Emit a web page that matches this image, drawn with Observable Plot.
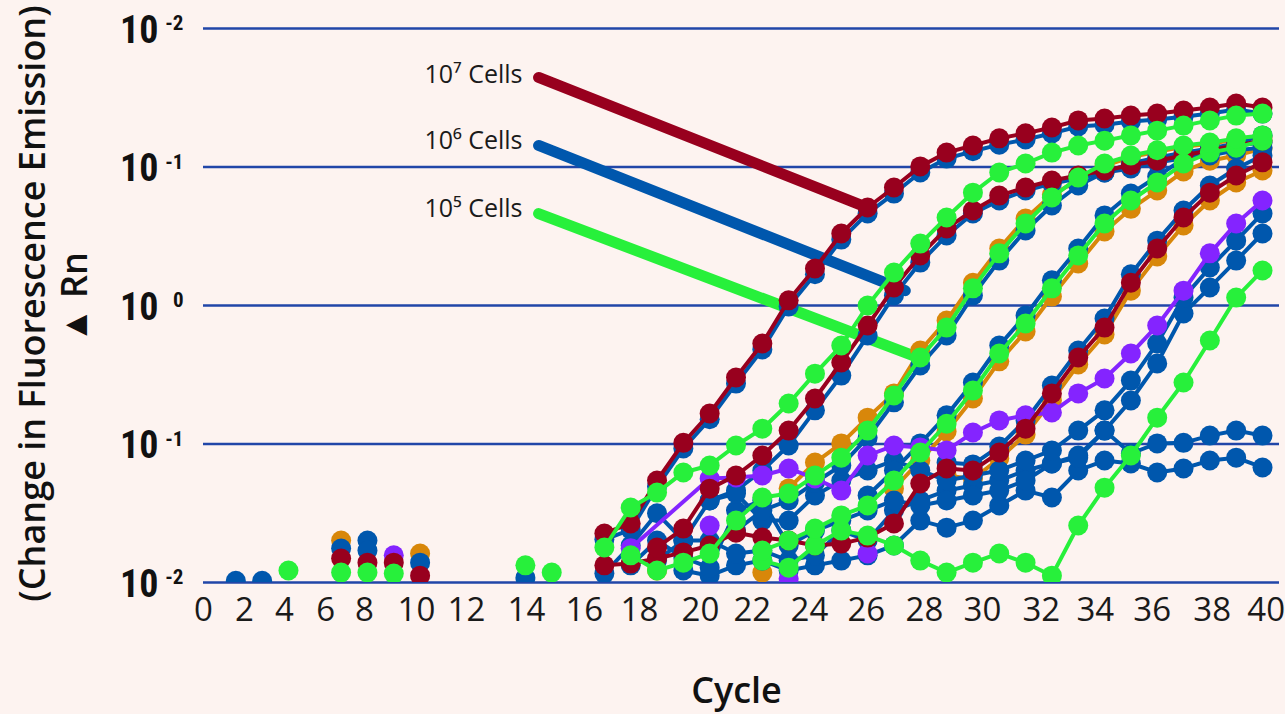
<!DOCTYPE html>
<html>
<head>
<meta charset="utf-8">
<script src="https://cdn.jsdelivr.net/npm/d3@7"></script>
<script src="https://cdn.jsdelivr.net/npm/@observablehq/plot@0.6"></script>
<style>
html, body { margin: 0; padding: 0; background: #fdf3f0; }
#chart svg { display: block; }
</style>
</head>
<body>
<div id="chart"></div>
<script>
// ---- Data (ΔRn per cycle) ----
const cycles = [15,16,17,18,19,20,21,22,23,24,25,26,27,28,29,30,31,32,33,34,35,36,37,38,39,40];

// 10^7 cells
const red1   = [0.0226,0.0267,0.0545,0.102,0.166,0.302,0.532,1.09,1.85,3.31,5.10,7.11,10.1,12.7,14.3,16.1,17.5,19.3,21.7,22.4,23.5,24.3,25.6,26.9,28.7,26.9];
const blue1  = [0.0204,0.0241,0.0493,0.0928,0.151,0.273,0.481,0.983,1.68,2.99,4.62,6.43,9.13,11.5,13.0,14.5,15.8,17.5,19.6,20.2,21.3,22.0,23.1,24.3,26.0,24.3];
// 10^6 cells
const green1 = [0.0179,0.0348,0.0446,0.0623,0.0700,0.0975,0.129,0.196,0.322,0.514,1.00,1.73,2.80,4.32,6.53,9.13,10.6,12.7,14.3,15.5,16.9,18.3,19.9,21.7,23.5,24.3];
const red2   = [null,null,0.0179,0.0245,0.0476,0.0592,0.0826,0.125,0.213,0.388,0.717,1.35,2.30,3.60,4.85,6.22,7.11,7.99,8.68,9.43,10.3,11.1,12.1,13.2,14.3,15.5];
const blue2  = [null,null,null,null,0.0391,0.0461,0.0644,0.0975,0.175,0.312,0.607,1.18,2.04,3.20,4.62,5.73,6.76,7.60,8.26,9.13,9.75,10.8,11.5,12.1,13.2,13.8];
// 10^5 cells
const green3 = [null,0.0157,0.0122,0.0139,0.0162,0.0280,0.0411,0.0439,0.0592,0.0797,0.125,0.224,0.421,0.693,1.33,2.38,3.91,6.02,8.39,10.6,12.1,13.2,14.3,15.0,16.1,16.9];
const orange3= [null,null,null,null,null,null,null,0.0478,0.0735,0.101,0.155,0.232,0.473,0.779,1.46,2.58,4.25,6.30,8.00,10.2,11.8,12.9,14.0,14.7,15.8,16.5];
const blue3  = [null,null,null,null,null,0.0237,0.0331,0.0391,0.0527,0.0700,0.111,0.200,0.369,0.607,1.18,2.11,3.48,5.27,7.35,9.13,10.6,11.7,12.7,13.6,14.3,15.0];
// later dilutions
const green2 = [null,null,null,null,null,null,0.0170,0.0201,0.0245,0.0305,0.0360,0.0545,0.0868,0.140,0.243,0.450,0.741,1.33,2.30,3.91,5.73,7.73,10.6,12.7,13.8,15.5];
const orange4= [null,null,null,null,null,null,null,null,null,null,null,0.0476,0.0760,0.123,0.213,0.395,0.649,1.16,2.01,3.42,4.99,6.76,9.28,11.1,12.1,13.6];
const blue4  = [null,null,null,null,null,null,null,null,null,null,0.0425,0.0644,0.101,0.161,0.278,0.514,0.847,1.52,2.58,4.47,6.43,8.54,11.5,13.6,14.8,16.9];
const red3   = [0.0133,0.0137,0.0149,0.0165,0.0185,0.0229,0.0211,0.0201,0.0185,0.0191,0.0211,0.0267,0.0519,0.0666,0.0644,0.0868,0.129,0.232,0.421,0.693,1.46,2.58,4.32,6.53,8.68,10.8];
const orange5= [null,null,null,null,null,null,null,null,null,null,null,null,null,0.0592,0.0558,0.0786,0.117,0.206,0.375,0.617,1.28,2.26,3.78,5.73,7.73,9.43];
const blue5  = [null,null,null,null,null,null,null,null,null,null,null,null,null,0.0735,0.0712,0.0960,0.148,0.264,0.473,0.805,1.68,2.94,4.85,7.35,9.75,12.1];
const purple1= [null,0.0177,null,null,0.0564,0.0574,0.0592,0.0666,0.0564,0.0461,0.0826,0.0975,0.0945,0.0898,0.121,0.148,0.161,0.169,0.232,0.297,0.450,0.717,1.28,2.38,3.91,5.73];
const green4 = [null,null,null,null,null,null,0.0144,0.0128,0.0185,0.0237,0.0218,0.0185,0.0144,0.0118,0.0139,0.0162,0.0139,0.0112,0.0258,0.0484,0.0826,0.155,0.278,0.559,1.14,1.79];
const blueL1 = [0.0116,0.0185,0.0316,0.0201,0.0391,0.0439,0.0280,0.0280,0.0425,0.0545,0.0644,0.0760,0.0644,0.0545,0.0592,0.0644,0.0760,0.0898,0.125,0.175,0.287,0.532,1.14,1.88,2.94,4.62];
const blueL2 = [null,0.0133,0.0201,0.0151,0.0128,0.0331,0.0391,0.0185,0.0237,0.0280,0.0331,0.0391,0.0360,0.0391,0.0425,0.0461,0.0545,0.0723,0.0797,0.125,0.206,0.382,0.875,1.35,2.11,3.31];
const blueF1 = [null,null,0.0144,0.0201,0.0201,0.0162,0.0170,0.0144,0.0157,0.0237,0.0201,0.0331,0.0391,0.0461,0.0501,0.0545,0.0644,0.0723,0.0826,0.125,0.0854,0.101,0.102,0.115,0.125,0.115];
const blueF2 = [null,null,null,0.0122,0.0112,0.0133,0.0144,0.0122,0.0133,0.0144,0.0157,0.0185,0.0280,0.0249,0.0280,0.0360,0.0461,0.0411,0.0644,0.0760,0.0723,0.0623,0.0666,0.0760,0.0797,0.0677];

// isolated baseline readings (dots only)
const scatterCycles = [1,2,3,5,5,5,5,6,6,6,6,7,7,7,8,8,8,12,12,13,17,21,19,22,25];
const scatterValues = [0.0103,0.0103,0.0122,0.0201,0.0176,0.0149,0.0118,0.0201,0.0170,0.0139,0.0118,0.0157,0.0139,0.0116,0.0162,0.0139,0.0112,0.0133,0.0108,0.0118,0.0122,0.0118,0.0258,0.0107,0.0162];
const scatterColors = ["blue","blue","green","orange","blue","red","green","blue","blue","red","green","purple","red","green","orange","blue","red","green","blue","green","orange","orange","purple","purple","purple"];

// axes
const yTickValues = [0.01, 0.1, 1, 10, 100];
const yExponents  = ["-2", "-1", "0", "-1", "-2"];
const xTickLabels = ["0","2","4","6","8","10","12","14","16","18","20","22","24","26","28","30","32","34","36","38","40"];
const xTickCycles = [-0.23,1.33,2.85,4.41,5.89,7.86,9.76,12.04,14.24,16.33,18.65,20.62,22.79,24.95,27.16,29.36,31.6,33.65,35.81,38.09,40.14];

// annotations
const annotLabels     = ["10\u2077 Cells", "10\u2076 Cells", "10\u2075 Cells"];
const annotColors     = ["red", "blue", "green"];
const annotLabelCycle = [11.89, 11.89, 11.89];
const annotLabelValue = [45.8, 15.5, 5.01];
const annotFromCycle  = [12.5, 12.5, 12.5];
const annotFromValue  = [44.3, 14.3, 4.61];
const annotToCycle    = [24.8, 26.43, 26.93];
const annotToValue    = [5.27, 1.28, 0.421];

// ---- Styling ----
const palette = {red: "#98001e", blue: "#0057ad", green: "#27f03b", orange: "#d8870a", purple: "#8424ff"};
const layers = ["orange", "blue", "purple", "red", "green"];
const seriesDefs = [
  ["orange3", "orange", orange3], ["orange4", "orange", orange4], ["orange5", "orange", orange5],
  ["blueF2", "blue", blueF2], ["blueF1", "blue", blueF1], ["blueL2", "blue", blueL2], ["blueL1", "blue", blueL1],
  ["blue5", "blue", blue5], ["blue4", "blue", blue4], ["blue3", "blue", blue3], ["blue2", "blue", blue2], ["blue1", "blue", blue1],
  ["purple1", "purple", purple1],
  ["red3", "red", red3], ["red2", "red", red2], ["red1", "red", red1],
  ["green4", "green", green4], ["green2", "green", green2], ["green3", "green", green3], ["green1", "green", green1]
];

const points = [];
for (const [name, key, vals] of seriesDefs) {
  vals.forEach((v, i) => { if (v != null) points.push({series: name, color: key, cycle: cycles[i], value: v}); });
}
const scatter = scatterCycles.map((c, i) => ({cycle: c, value: scatterValues[i], color: scatterColors[i]}));
const annots = annotLabels.map((t, i) => ({
  label: t, color: palette[annotColors[i]],
  lx: annotLabelCycle[i], ly: annotLabelValue[i],
  x1: annotFromCycle[i], y1: annotFromValue[i], x2: annotToCycle[i], y2: annotToValue[i]
}));

const dataMarks = layers.flatMap(k => {
  const pts = points.filter(p => p.color === k);
  const sc = scatter.filter(p => p.color === k);
  return [
    Plot.line(pts, {x: "cycle", y: "value", z: "series", stroke: palette[k], strokeWidth: 4, clip: true}),
    Plot.dot(pts.concat(sc), {x: "cycle", y: "value", r: 10, fill: palette[k], clip: true})
  ];
});

const tickFont = "'Liberation Sans Narrow', 'Roboto Condensed', Roboto, sans-serif";

const chart = Plot.plot({
  width: 1285,
  height: 714,
  marginLeft: 203,
  marginRight: 6,
  marginTop: 28,
  marginBottom: 132,
  x: {domain: [0, 40], insetLeft: 6, insetRight: 17, axis: null},
  y: {type: "log", domain: [0.01, 100], axis: null},
  style: {background: "#fdf3f0", fontFamily: "'Open Sans', sans-serif"},
  marks: [
    Plot.ruleY(yTickValues, {stroke: "#2146a8", strokeWidth: 2.5}),
    // y tick labels
    Plot.text(yTickValues, {y: d => d, text: () => "10", frameAnchor: "left", textAnchor: "end", dx: -45, dy: 2,
      fontSize: 38, fontWeight: 700, fontFamily: tickFont, fill: "#111"}),
    Plot.text(yTickValues, {y: d => d, text: (d, i) => yExponents[i], frameAnchor: "left", textAnchor: "end", dx: -20, dy: -5,
      fontSize: 21, fontWeight: 700, fontFamily: tickFont, fill: "#111"}),
    // x tick labels
    Plot.text(xTickCycles, {x: d => d, text: (d, i) => xTickLabels[i], frameAnchor: "bottom", dy: 38,
      fontSize: 33, fontWeight: 400, fill: "#1a1a1a"}),
    // axis titles
    Plot.text(["(Change in Fluorescence Emission)"], {text: d => d, frameAnchor: "left", textAnchor: "middle", rotate: -90, dx: -170, dy: -2,
      fontSize: 36, fontWeight: 600, fill: "#111"}),
    Plot.text(["\u25B2 Rn"], {text: d => d, frameAnchor: "left", textAnchor: "middle", rotate: -90, dx: -128, dy: -8,
      fontSize: 36, fontWeight: 600, fill: "#111"}),
    Plot.text(["Cycle"], {text: d => d, frameAnchor: "bottom", dx: -5, dy: 120,
      fontSize: 36, fontWeight: 600, fill: "#111"}),
    // annotation arrows
    Plot.link(annots, {x1: "x1", y1: "y1", x2: "x2", y2: "y2", stroke: "color", strokeWidth: 11, strokeLinecap: "round"}),
    Plot.text(annots, {x: "lx", y: "ly", text: "label", textAnchor: "end", fontSize: 25, fill: "#1a1a1a"}),
    ...dataMarks
  ]
});

document.getElementById("chart").appendChild(chart);
</script>
</body>
</html>
